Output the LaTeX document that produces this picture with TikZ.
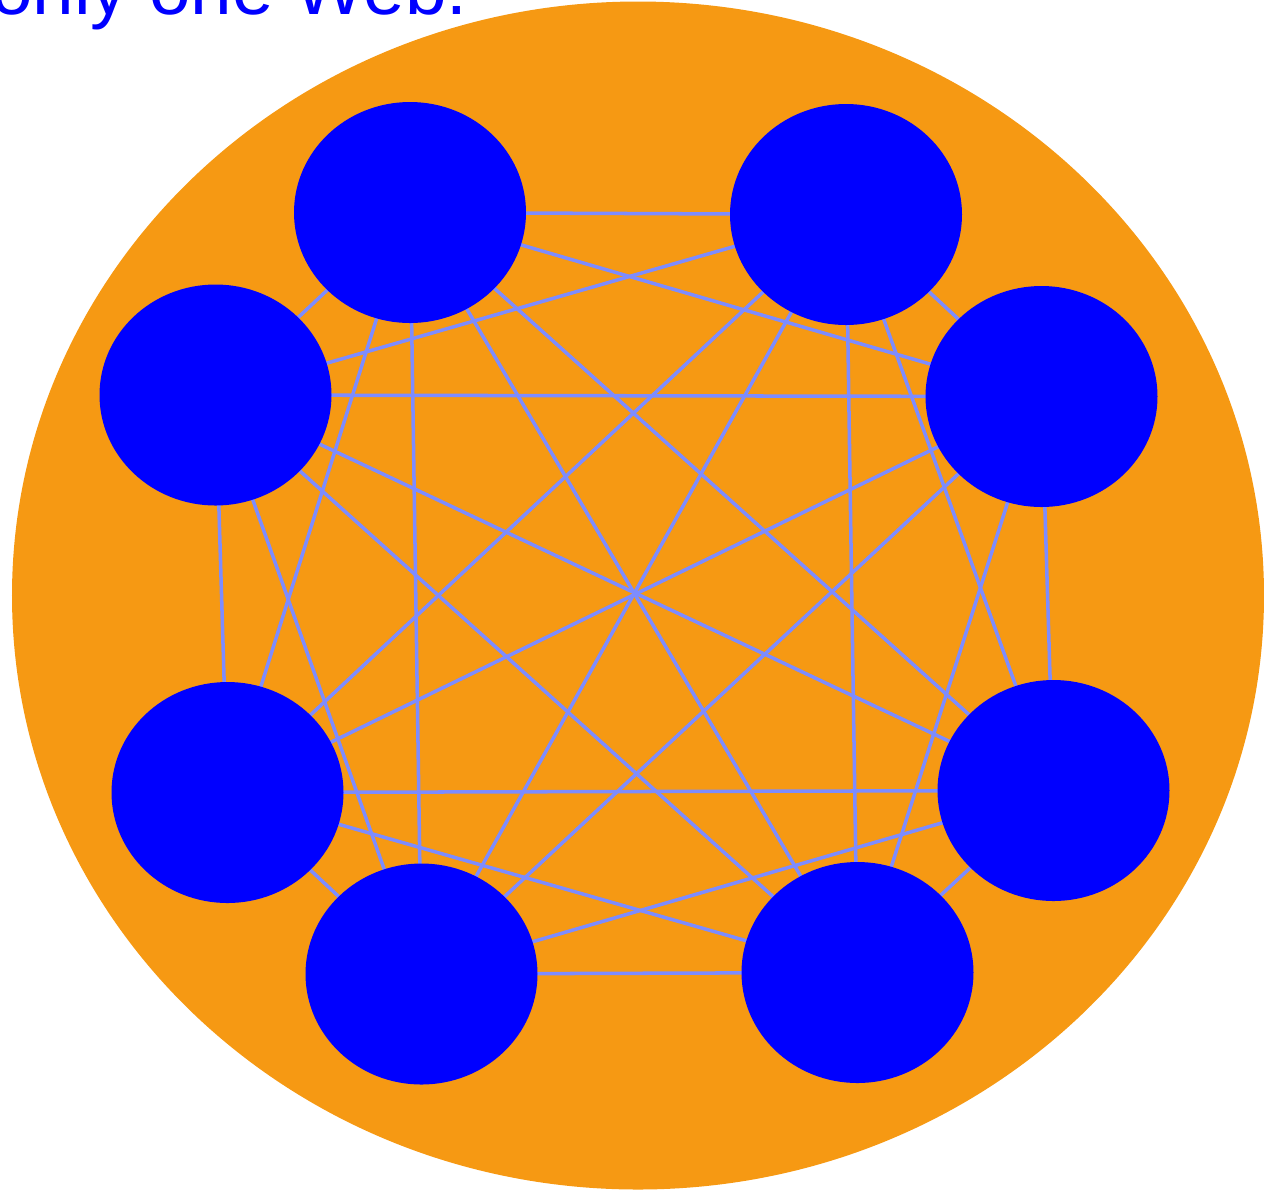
\documentclass[tikz,border=0pt]{standalone}
\usepackage{fontspec}
\usepackage{tikz}
\usetikzlibrary{shapes.geometric,backgrounds}
\newfontfamily\captionfont{Liberation Sans}
\definecolor{webOrange}{RGB}{246,153,19}
\definecolor{webBlue}{RGB}{0,0,255}
\definecolor{linkBlue}{RGB}{125,140,255}

\begin{document}
\begin{tikzpicture}[
    site/.style={ellipse, fill=webBlue, draw=none, inner sep=0pt, outer sep=0pt,
                 minimum width=4.64cm, minimum height=4.42cm},
    link/.style={draw=linkBlue, line width=2pt},
    caption/.style={font=\captionfont\fontsize{42.5}{50}\selectfont, text=webBlue,
                    inner sep=0pt, anchor=base west}
]
  \useasboundingbox (0,0) rectangle (25.28,-23.8);

  \node[caption] (title) at (-0.18,-0.28) {only one Web.};

  \node[site] (s1) at (8.20,-4.25) {};
  \node[site] (s2) at (16.92,-4.29) {};
  \node[site] (s3) at (4.31,-7.90) {};
  \node[site] (s4) at (20.83,-7.93) {};
  \node[site] (s5) at (4.55,-15.85) {};
  \node[site] (s6) at (21.07,-15.81) {};
  \node[site] (s7) at (8.43,-19.48) {};
  \node[site] (s8) at (17.15,-19.45) {};

  \begin{scope}[on background layer]
    \fill[webOrange] (12.76,-11.91) ellipse [x radius=12.52cm, y radius=11.88cm];
    % every site linked to every other one
    \foreach \i in {1,...,7}{
      \pgfmathtruncatemacro\k{\i+1}
      \foreach \j in {\k,...,8}
        \draw[link] (s\i.center) -- (s\j.center);
    }
  \end{scope}
\end{tikzpicture}
\end{document}
